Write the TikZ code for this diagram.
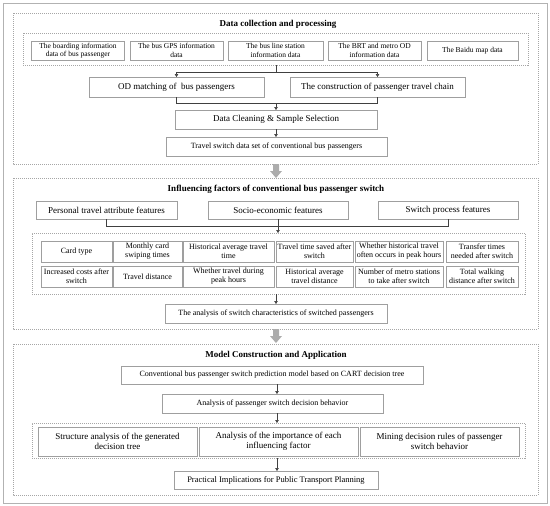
\documentclass[tikz,border=0pt]{standalone}
\usepackage{fontspec}
\setmainfont{Liberation Serif}
\usetikzlibrary{arrows.meta}

\tikzset{
  box/.style={draw=gray!75, fill=white, align=center, inner sep=1pt, outer sep=0pt, font=\fontsize{9}{10}\selectfont},
  srcbox/.style={box, minimum width=93pt, minimum height=19pt, font=\fontsize{7.5}{8.5}\selectfont},
  cellbox/.style={box, minimum height=21pt, font=\fontsize{8}{9}\selectfont},
  midbox/.style={box, minimum height=19pt, font=\fontsize{8}{9}\selectfont},
  section/.style={draw=gray!70, dash pattern=on 1pt off 1pt, inner sep=0pt, outer sep=0pt},
  title/.style={font=\fontsize{9}{10}\selectfont\bfseries},
  link/.style={draw=black!75, line width=0.5pt},
  linkarrow/.style={link, -{Triangle[length=3pt,width=3.5pt]}},
  bigarrow/.style={fill=gray!65}
}

\begin{document}
\begin{tikzpicture}[x=1pt,y=-1pt]
        \useasboundingbox (0,0) rectangle (550,506);
        \draw[gray!60, line width=0.8pt] (3,3) rectangle (547,503);
        % Data collection and processing
        \draw[section] (13,13) rectangle (538,164);
        \node[title] (t1) at (278,24) {Data collection and processing};
        \node[section, minimum width=505pt, minimum height=32pt] (srcs) at (275.5,49) {};
        \node[srcbox] (s1) at (78,50.5) {The boarding information\\data of bus passenger};
        \node[srcbox] (s2) at (176.5,50.5) {The bus GPS information\\data};
        \node[srcbox, minimum width=95pt] (s3) at (275.5,50.5) {The bus line station\\information data};
        \node[srcbox] (s4) at (374.5,50.5) {The BRT and metro OD\\information data};
        \node[srcbox, minimum width=91pt] (s5) at (472.5,50.5) {The Baidu map data};
        \node[box, minimum width=175pt, minimum height=20pt] (od) at (176.5,87) {OD matching of \ bus passengers};
        \node[box, minimum width=175pt, minimum height=20pt] (chain) at (377.5,87) {The construction of passenger travel chain};
        \node[box, minimum width=202pt, minimum height=19pt] (clean) at (276,119.5) {Data Cleaning \& Sample Selection};
        \node[midbox, minimum width=221pt] (dataset) at (276.5,146.5) {Travel switch data set of conventional bus passengers};
        \coordinate (j1) at (276,72);
        \coordinate (j2) at (276,103);
        \draw[link] (srcs.south -| j1) -- (j1);
        \draw[linkarrow] (j1) -| (od.north);
        \draw[linkarrow] (j1) -| (chain.north);
        \draw[link] (od.south) |- (j2);
        \draw[link] (chain.south) |- (j2);
        \draw[linkarrow] (j2) -- (clean.north);
        \draw[linkarrow] (clean.south) -- (clean.south |- dataset.north);
        \fill[bigarrow] (273,164) -- (279,164) -- (279,171) -- (282,171) -- (276,178) -- (270,171) -- (273,171) -- cycle;
        % Influencing factors
        \draw[section] (13,178) rectangle (538,329);
        \node[title] (t2) at (276,189) {Influencing factors of conventional bus passenger switch};
        \node[box, minimum width=141pt, minimum height=18pt] (personal) at (106.5,210) {Personal travel attribute features};
        \node[box, minimum width=140pt, minimum height=18pt] (socio) at (278,210) {Socio-economic features};
        \node[box, minimum width=140pt, minimum height=18pt] (process) at (448,210) {Switch process features};
        \node[section, minimum width=493pt, minimum height=61pt] (grid) at (278.5,263.5) {};
        \node[cellbox, minimum width=71pt] (c11) at (76.5,251.5) {Card type};
        \node[cellbox, minimum width=69pt] (c12) at (147.5,251.5) {Monthly card\\swiping times};
        \node[cellbox, minimum width=91pt] (c13) at (228.5,251.5) {Historical average travel\\time};
        \node[cellbox, minimum width=77pt] (c14) at (314.5,251.5) {Travel time saved after\\switch};
        \node[cellbox, minimum width=88pt] (c15) at (399,251.5) {Whether historical travel\\often occurs in peak hours};
        \node[cellbox, minimum width=72pt] (c16) at (482,251.5) {Transfer times\\needed after switch};
        \node[cellbox, minimum width=71pt] (c21) at (76.5,276.5) {Increased costs after\\switch};
        \node[cellbox, minimum width=69pt] (c22) at (147.5,276.5) {Travel distance};
        \node[cellbox, minimum width=91pt] (c23) at (228.5,276.5) {Whether travel during\\peak hours};
        \node[cellbox, minimum width=77pt] (c24) at (314.5,276.5) {Historical average\\travel distance};
        \node[cellbox, minimum width=88pt] (c25) at (399,276.5) {Number of metro stations\\to take after switch};
        \node[cellbox, minimum width=72pt] (c26) at (482,276.5) {Total walking\\distance after switch};
        \node[midbox, minimum width=222pt] (switchchar) at (276,313.5) {The analysis of switch characteristics of switched passengers};
        \coordinate (j3) at (278,226);
        \draw[link] (personal.south) |- (j3);
        \draw[link] (process.south) |- (j3);
        \draw[linkarrow] (socio.south) -- (grid.north -| socio.south);
        \draw[linkarrow] (grid.south -| switchchar.north) -- (switchchar.north);
        \fill[bigarrow] (273,329) -- (279,329) -- (279,336) -- (282,336) -- (276,343) -- (270,336) -- (273,336) -- cycle;
        % Model construction and application
        \draw[section] (13,344) rectangle (538,495);
        \node[title] (t3) at (276,355) {Model Construction and Application};
        \coordinate (spine) at (277,0);
        \node[midbox, minimum width=302pt, minimum height=18pt] (cart) at (272,375) {Conventional bus passenger switch prediction model based on CART decision tree};
        \node[midbox, minimum width=221pt] (behavior) at (272.5,403.5) {Analysis of passenger switch decision behavior};
        \node[section, minimum width=493pt, minimum height=35pt] (mbox) at (278.5,440.5) {};
        \node[box, minimum width=159pt, minimum height=29pt] (tree) at (117.5,441.5) {Structure analysis of the generated\\decision tree};
        \node[box, minimum width=159pt, minimum height=29pt] (factor) at (278.5,441.5) {Analysis of the importance of each\\influencing factor};
        \node[box, minimum width=159pt, minimum height=29pt] (rules) at (439.5,441.5) {Mining decision rules of passenger\\switch behavior};
        \node[box, minimum width=204pt, minimum height=18pt, font=\fontsize{8.5}{9.5}\selectfont] (planning) at (276,480) {Practical Implications for Public Transport Planning};
        \draw[linkarrow] (cart.south -| spine) -- (behavior.north -| spine);
        \draw[linkarrow] (behavior.south -| spine) -- (mbox.north -| spine);
        \draw[linkarrow] (mbox.south -| spine) -- (planning.north -| spine);
    \end{tikzpicture}
\end{document}
